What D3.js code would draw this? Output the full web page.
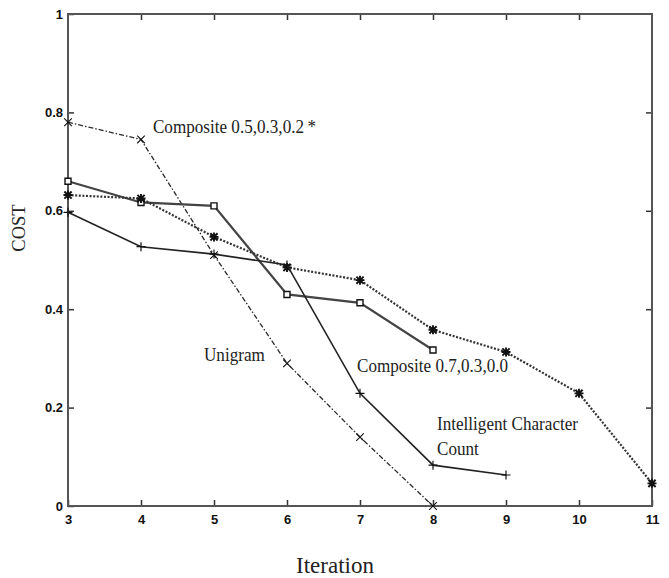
<!DOCTYPE html>
<html>
<head>
<meta charset="utf-8">
<script src="https://cdn.jsdelivr.net/npm/d3@7"></script>
<style>
  html, body { margin: 0; padding: 0; background: #fff; }
  svg { display: block; }
</style>
</head>
<body>
<svg id="chart" width="669" height="578"></svg>
<script>
// Axis ticks
const iterationTicks = [3, 4, 5, 6, 7, 8, 9, 10, 11];
const costTicks = [0, 0.2, 0.4, 0.6, 0.8, 1];

// Cost per iteration for each measure
const unigramIter = [3, 4, 5, 6, 7, 8];
const unigramCost = [0.78, 0.745, 0.51, 0.29, 0.14, 0.0];

const comp07Iter = [3, 4, 5, 6, 7, 8];
const comp07Cost = [0.66, 0.617, 0.61, 0.43, 0.413, 0.317];

const comp05Iter = [3, 4, 5, 6, 7, 8, 9, 10, 11];
const comp05Cost = [0.632, 0.625, 0.547, 0.485, 0.459, 0.358, 0.313, 0.229, 0.046];

const iccIter = [3, 4, 5, 6, 7, 8, 9];
const iccCost = [0.597, 0.527, 0.512, 0.49, 0.229, 0.083, 0.063];

// In-plot annotations: text and anchor (iteration, cost)
const labelText = ["Composite 0.5,0.3,0.2\u2009*", "Unigram", "Composite 0.7,0.3,0.0", "Intelligent Character", "Count"];
const labelIter = [4.164, 4.863, 6.959, 8.055, 8.055];
const labelCost = [0.758, 0.295, 0.272, 0.1545, 0.1037];

const svg = d3.select("#chart");

const x = d3.scaleLinear().domain([3, 11]).range([68, 652]);
const y = d3.scaleLinear().domain([0, 1]).range([506, 14]);

const tickFont = "bold 13px 'Liberation Sans', Arial, sans-serif";
const serif = "'Liberation Serif', 'Times New Roman', serif";

// Bottom axis with inward ticks
const gx = svg.append("g")
  .attr("transform", `translate(0,${y(0)})`)
  .call(d3.axisBottom(x).tickValues(iterationTicks).tickSizeInner(-6).tickSizeOuter(0)
    .tickPadding(9).tickFormat(d3.format("d")));

// Left axis
const gy = svg.append("g")
  .attr("transform", `translate(${x(3)},0)`)
  .call(d3.axisLeft(y).tickValues(costTicks).tickSizeInner(-6).tickSizeOuter(0)
    .tickPadding(5).tickFormat(d => (d === 0 ? "0" : d === 1 ? "1" : d3.format(".1f")(d))));

// Top and right axes: ticks only
const gt = svg.append("g")
  .attr("transform", `translate(0,${y(1)})`)
  .call(d3.axisTop(x).tickValues(iterationTicks.slice(1, -1)).tickSizeInner(-6).tickSizeOuter(0).tickFormat(""));
const gr = svg.append("g")
  .attr("transform", `translate(${x(11)},0)`)
  .call(d3.axisRight(y).tickValues(costTicks.slice(1, -1)).tickSizeInner(-6).tickSizeOuter(0).tickFormat(""));

[gx, gy, gt, gr].forEach(g => {
  g.select(".domain").remove();
  g.selectAll(".tick line").attr("stroke", "#333").attr("stroke-width", 1.5);
  g.selectAll(".tick text").style("font", tickFont).attr("fill", "#111");
});

// Plot frame
svg.append("rect")
  .attr("x", x(3)).attr("y", y(1))
  .attr("width", x(11) - x(3)).attr("height", y(0) - y(1))
  .attr("fill", "none").attr("stroke", "#555").attr("stroke-width", 2);

// Series drawing
const line = d3.line().x(d => x(d[0])).y(d => y(d[1]));

function markerPath(type, cx, cy) {
  const p = d3.path();
  if (type === "times" || type === "star") {
    const s = type === "star" ? 3.6 : 3.8;
    p.moveTo(cx - s, cy - s); p.lineTo(cx + s, cy + s);
    p.moveTo(cx - s, cy + s); p.lineTo(cx + s, cy - s);
  }
  if (type === "plus" || type === "star") {
    const s = 4.5;
    p.moveTo(cx - s, cy); p.lineTo(cx + s, cy);
    p.moveTo(cx, cy - s); p.lineTo(cx, cy + s);
  }
  if (type === "square") {
    p.rect(cx - 3, cy - 3, 6, 6);
  }
  return p.toString();
}

const series = [
  { iter: unigramIter, cost: unigramCost, marker: "times", dash: "5,2,1.5,2", width: 1.3, color: "#2a2a2a", mw: 1.1 },
  { iter: comp07Iter, cost: comp07Cost, marker: "square", dash: null, width: 2.2, color: "#444", mw: 1.4 },
  { iter: comp05Iter, cost: comp05Cost, marker: "star", dash: "2,1.6", width: 2.2, color: "#333", mw: 1.9 },
  { iter: iccIter, cost: iccCost, marker: "plus", dash: null, width: 1.6, color: "#222", mw: 1.2 }
];

series.forEach(s => {
  const pts = s.iter.map((v, i) => [v, s.cost[i]]);
  svg.append("path")
    .datum(pts)
    .attr("d", line)
    .attr("fill", "none")
    .attr("stroke", s.color)
    .attr("stroke-width", s.width)
    .attr("stroke-dasharray", s.dash);
  svg.append("g").selectAll("path")
    .data(pts)
    .join("path")
    .attr("d", d => markerPath(s.marker, x(d[0]), y(d[1])))
    .attr("fill", s.marker === "square" ? "#fff" : "none")
    .attr("stroke", "#111")
    .attr("stroke-width", s.mw);
});

// Annotations (condensed serif)
const labels = svg.append("g")
  .selectAll("text")
  .data(labelText)
  .join("text")
  .attr("x", (d, i) => x(labelIter[i]))
  .attr("y", (d, i) => y(labelCost[i]))
  .style("font-family", serif)
  .style("font-size", "19px")
  .attr("fill", "#222")
  .text(d => d);

labels.each(function () {
  const w = this.getComputedTextLength() * 0.9;
  d3.select(this).attr("textLength", w).attr("lengthAdjust", "spacingAndGlyphs");
});

// Axis titles
svg.append("text")
  .attr("transform", `translate(25,${228}) rotate(-90)`)
  .attr("text-anchor", "middle")
  .style("font-family", serif).style("font-size", "18.5px")
  .attr("fill", "#222")
  .text("COST");

svg.append("text")
  .attr("x", (x(3) + x(11)) / 2 - 25).attr("y", 573)
  .attr("text-anchor", "middle")
  .style("font-family", serif).style("font-size", "23px")
  .attr("fill", "#222")
  .text("Iteration");
</script>
</body>
</html>
